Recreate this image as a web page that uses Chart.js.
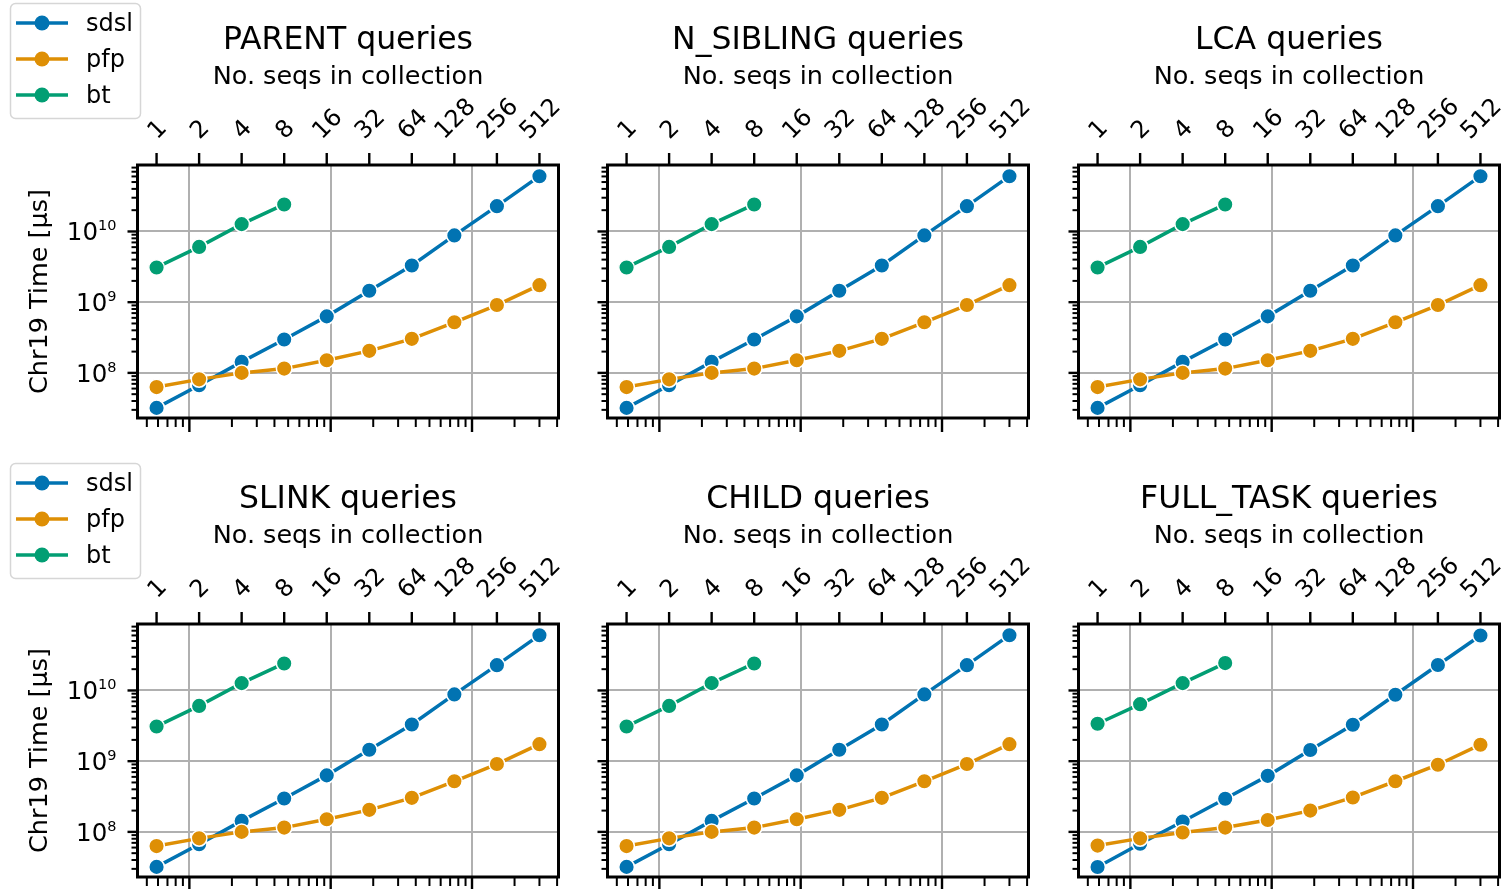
<!DOCTYPE html>
<html>
<head>
<meta charset="utf-8">
<script src="https://cdn.jsdelivr.net/npm/chart.js@4.4.0/dist/chart.umd.min.js"></script>
<style>
    body { margin: 0; background: #fff; width: 1503px; height: 889px; overflow: hidden; position: relative; }
    canvas { position: absolute; }
</style>
</head>
<body>
<script>
// data
const queryTypes = ['PARENT', 'N_SIBLING', 'LCA', 'SLINK', 'CHILD', 'FULL_TASK'];
const seqCounts = [1, 2, 4, 8, 16, 32, 64, 128, 256, 512];
const chr19Length = 58.6e6;   // bottom (log) axis = no. seqs * chr19 length

const sdslTimes = [3.2e7, 6.7e7, 1.43e8, 2.97e8, 6.3e8, 1.45e9, 3.3e9, 8.8e9, 2.28e10, 6.05e10];
const pfpTimes = [6.3e7, 8.1e7, 1.0e8, 1.15e8, 1.51e8, 2.05e8, 3.03e8, 5.2e8, 9.1e8, 1.74e9];
const btTimes = [3.1e9, 6.05e9, 1.27e10, 2.41e10];

const sdslFullTask = [3.18e7, 6.8e7, 1.40e8, 2.94e8, 6.2e8, 1.44e9, 3.27e9, 8.7e9, 2.29e10, 6.0e10];
const pfpFullTask = [6.4e7, 8.1e7, 9.8e7, 1.15e8, 1.47e8, 2.0e8, 3.07e8, 5.2e8, 8.9e8, 1.71e9];
const btFullTask = [3.38e9, 6.4e9, 1.27e10, 2.44e10];

const seriesNames = ['sdsl', 'pfp', 'bt'];
const seriesColors = ['#0173b2', '#de8f05', '#029e73'];
const majorTicks = [1e8, 1e9, 1e10];

const xMin = Math.pow(10, 7.633), xMax = Math.pow(10, 10.612);
const yMin = Math.pow(10, 7.362), yMax = Math.pow(10, 10.94);

const FONT = '"DejaVu Sans", sans-serif';

// layout of the 2x3 grid (page pixels)
const colCanvasLeft = [0, 570, 1040];
const colCanvasWidth = [570, 470, 463];
const colAreaLeft = [137.5, 607.5, 1078.5];
const areaWidth = 421;
const rowCanvasTop = [0, 444];
const rowCanvasHeight = [444, 445];
const rowAreaTop = [165, 624];
const areaHeight = 253;

function toPoints(values) {
    return values.map((v, i) => ({ x: seqCounts[i] * chr19Length, y: v }));
}

function logTicks(min, max) {
    const out = [];
    for (let e = Math.floor(Math.log10(min)); e <= Math.ceil(Math.log10(max)); e++) {
        for (let k = 1; k <= 9; k++) {
            const v = k * Math.pow(10, e);
            if (v >= min && v <= max) out.push({ v: v, major: k === 1 });
        }
    }
    return out;
}

function drawLegend(ctx, top) {
    ctx.save();
    ctx.beginPath();
    ctx.roundRect(10.5, top + 3.5, 130, 115, 5);
    ctx.fillStyle = 'rgba(255,255,255,0.8)';
    ctx.fill();
    ctx.strokeStyle = '#d6d6d6';
    ctx.lineWidth = 1.5;
    ctx.stroke();
    seriesNames.forEach((name, i) => {
        const y = top + 23 + i * 36;
        ctx.strokeStyle = seriesColors[i];
        ctx.lineWidth = 3.5;
        ctx.beginPath();
        ctx.moveTo(16, y);
        ctx.lineTo(68, y);
        ctx.stroke();
        ctx.fillStyle = seriesColors[i];
        ctx.beginPath();
        ctx.arc(42, y, 7.5, 0, Math.PI * 2);
        ctx.fill();
        ctx.fillStyle = '#000';
        ctx.font = '24px ' + FONT;
        ctx.textAlign = 'left';
        ctx.textBaseline = 'alphabetic';
        ctx.fillText(name, 86, y + 8);
    });
    ctx.restore();
}

const decorPlugin = {
    id: 'decor',
    afterDraw(chart, args, opts) {
        const ctx = chart.ctx;
        const area = chart.chartArea;
        const xs = chart.scales.x, ys = chart.scales.y;
        ctx.save();

        // bottom ticks
        ctx.strokeStyle = '#000';
        logTicks(xMin, xMax).forEach(t => {
            const px = xs.getPixelForValue(t.v);
            ctx.lineWidth = t.major ? 2.4 : 2;
            ctx.beginPath();
            ctx.moveTo(px, area.bottom);
            ctx.lineTo(px, area.bottom + (t.major ? 14 : 9));
            ctx.stroke();
        });
        // left ticks
        logTicks(yMin, yMax).forEach(t => {
            const py = ys.getPixelForValue(t.v);
            ctx.lineWidth = t.major ? 2.4 : 2;
            ctx.beginPath();
            ctx.moveTo(area.left, py);
            ctx.lineTo(area.left - (t.major ? 10 : 6), py);
            ctx.stroke();
        });
        // top ticks + rotated labels
        const fs = 24;
        ctx.font = fs + 'px ' + FONT;
        ctx.fillStyle = '#000';
        seqCounts.forEach(n => {
            const px = xs.getPixelForValue(n * chr19Length);
            ctx.lineWidth = 2.4;
            ctx.beginPath();
            ctx.moveTo(px, area.top);
            ctx.lineTo(px, area.top - 12);
            ctx.stroke();
            const label = String(n);
            const w = ctx.measureText(label).width;
            const h = fs * 1.164;
            const ox = px - (w - h) / (2 * Math.SQRT2);
            const oy = area.top - 21;
            ctx.save();
            ctx.translate(ox, oy);
            ctx.rotate(-Math.PI / 4);
            ctx.textAlign = 'left';
            ctx.textBaseline = 'alphabetic';
            ctx.fillText(label, 0, -fs * 0.236);
            ctx.restore();
        });

        // frame
        ctx.lineWidth = 3;
        ctx.strokeStyle = '#000';
        ctx.strokeRect(area.left, area.top, area.right - area.left, area.bottom - area.top);

        const cx = (area.left + area.right) / 2;
        ctx.textAlign = 'center';
        ctx.textBaseline = 'alphabetic';
        ctx.font = '31.5px ' + FONT;
        ctx.fillText(opts.title + ' queries', cx, area.top - 116.5);
        ctx.font = '25.5px ' + FONT;
        ctx.fillText('No. seqs in collection', cx, area.top - 80.7);

        if (opts.showY) {
            // y tick labels 10^k
            majorTicks.forEach(v => {
                const py = ys.getPixelForValue(v);
                const exp = String(Math.round(Math.log10(v)));
                ctx.font = '14.5px ' + FONT;
                const we = ctx.measureText(exp).width;
                const right = area.left - 21;
                ctx.textAlign = 'left';
                ctx.fillText(exp, right - we, py - 1.3);
                ctx.font = '24.5px ' + FONT;
                const wb = ctx.measureText('10').width;
                ctx.fillText('10', right - we - wb, py + 8.8);
            });
            // y axis title
            ctx.save();
            ctx.translate(47.3, (area.top + area.bottom) / 2);
            ctx.rotate(-Math.PI / 2);
            ctx.textAlign = 'center';
            ctx.font = '25.5px ' + FONT;
            ctx.fillText('Chr19 Time [\u00b5s]', 0, 0);
            ctx.restore();
            drawLegend(ctx, opts.legendTop);
        }
        ctx.restore();
    }
};

queryTypes.forEach((q, idx) => {
    const row = Math.floor(idx / 3), col = idx % 3;
    const canvas = document.createElement('canvas');
    canvas.width = colCanvasWidth[col];
    canvas.height = rowCanvasHeight[row];
    canvas.style.left = colCanvasLeft[col] + 'px';
    canvas.style.top = rowCanvasTop[row] + 'px';
    document.body.appendChild(canvas);

    const full = q === 'FULL_TASK';
    const values = [full ? sdslFullTask : sdslTimes, full ? pfpFullTask : pfpTimes, full ? btFullTask : btTimes];

    const padLeft = colAreaLeft[col] - colCanvasLeft[col];
    const padTop = rowAreaTop[row] - rowCanvasTop[row];

    new Chart(canvas.getContext('2d'), {
        type: 'line',
        data: {
            datasets: values.map((vals, i) => ({
                label: seriesNames[i],
                data: toPoints(vals),
                borderColor: seriesColors[i],
                backgroundColor: seriesColors[i],
                pointBackgroundColor: seriesColors[i],
                pointBorderColor: '#ffffff',
                pointBorderWidth: 1.5,
                pointRadius: 7.8,
                borderWidth: 3.5,
                tension: 0,
                order: 3 - i
            }))
        },
        options: {
            responsive: false,
            animation: false,
            devicePixelRatio: 1,
            layout: {
                autoPadding: false,
                padding: {
                    left: padLeft,
                    top: padTop,
                    right: colCanvasWidth[col] - padLeft - areaWidth,
                    bottom: rowCanvasHeight[row] - padTop - areaHeight
                }
            },
            plugins: {
                legend: { display: false },
                tooltip: { enabled: false },
                decor: { title: q, showY: col === 0, legendTop: rowCanvasTop[row] === 0 ? 0 : 460 - rowCanvasTop[row] }
            },
            scales: {
                x: {
                    type: 'logarithmic',
                    min: xMin,
                    max: xMax,
                    afterBuildTicks: s => { s.ticks = majorTicks.map(v => ({ value: v })); },
                    ticks: { display: false },
                    grid: { color: '#b0b0b0', lineWidth: 2, drawTicks: false },
                    border: { display: false }
                },
                y: {
                    type: 'logarithmic',
                    min: yMin,
                    max: yMax,
                    afterBuildTicks: s => { s.ticks = majorTicks.map(v => ({ value: v })); },
                    ticks: { display: false },
                    grid: { color: '#b0b0b0', lineWidth: 2, drawTicks: false },
                    border: { display: false }
                }
            }
        },
        plugins: [decorPlugin]
    });
});
</script>
</body>
</html>
